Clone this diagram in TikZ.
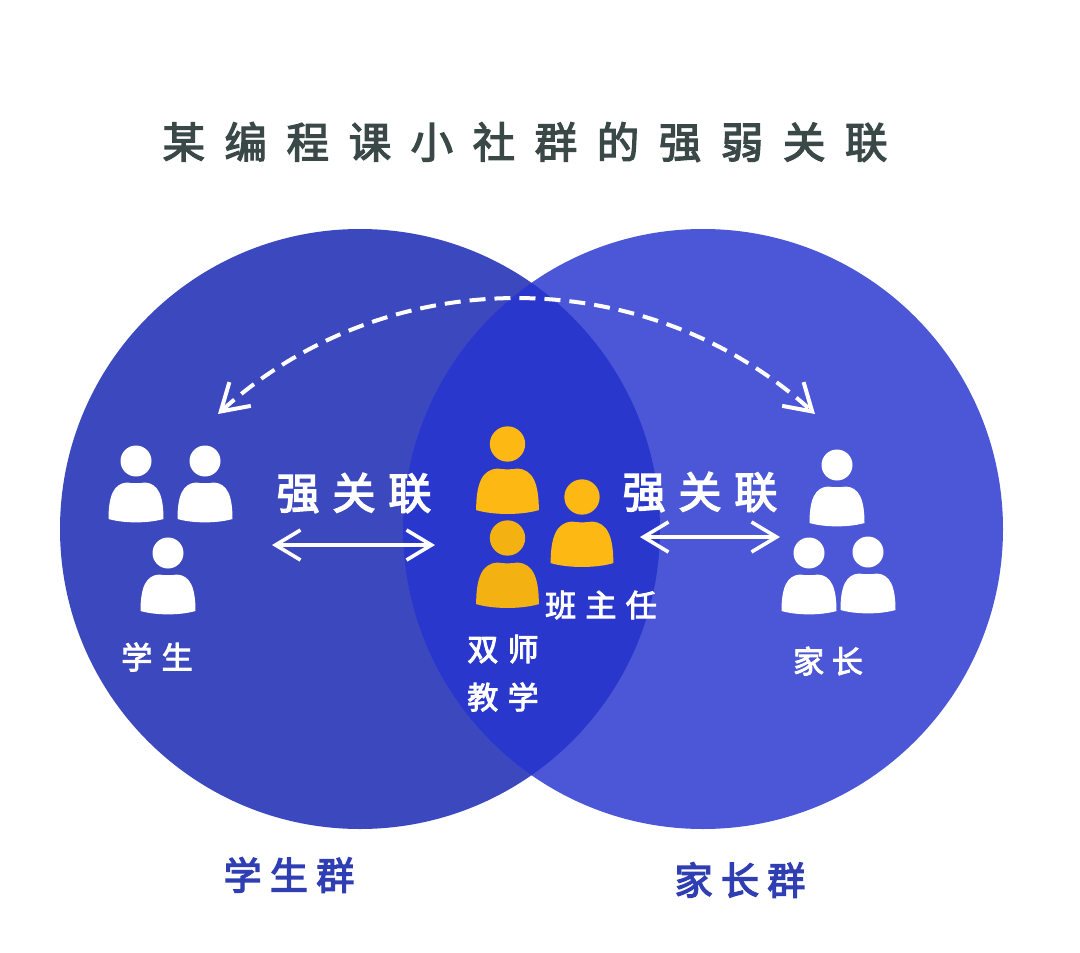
\documentclass[tikz,border=0pt]{standalone}
\usepackage{fontspec}
\usetikzlibrary{arrows.meta}
\newfontfamily\cjk{Noto Sans CJK SC}
\definecolor{leftblue}{RGB}{60,72,190}
\definecolor{rightblue}{RGB}{75,87,214}
\definecolor{lensblue}{RGB}{42,55,205}
\definecolor{titlegrey}{RGB}{58,72,72}
\definecolor{groupblue}{RGB}{47,62,178}
\definecolor{amber}{RGB}{253,184,19}
\tikzset{
  x=1pt,y=-1pt,
  venn/.style={circle,inner sep=0pt,minimum size=600pt},
  person/.pic={
    \fill[pic actions] (0,0) circle[radius=15.5];
    \fill[pic actions] (-27.5,58) .. controls (-27.5,34) and (-22,22.5) .. (-9,21.5)
      .. controls (-3,22.5) and (3,22.5) .. (9,21.5)
      .. controls (22,22.5) and (27.5,34) .. (27.5,58)
      .. controls (12,62.5) and (-12,62.5) .. (-27.5,58) -- cycle;
  },
  titletext/.style={text=titlegrey,font=\cjk\fontsize{42.5}{43}\selectfont},
  strongtext/.style={text=white,font=\cjk\fontsize{43}{43}\selectfont},
  smalltext/.style={text=white,font=\cjk\fontsize{31}{31}\selectfont},
  grouptext/.style={text=groupblue,font=\cjk\fontsize{38}{38}\selectfont},
  link/.style={draw=white,line width=3.6pt,{Straight Barb[length=25pt,width=30pt,line width=3.6pt]}-{Straight Barb[length=25pt,width=30pt,line width=3.6pt]}},
  farlink/.style={draw=white,line width=4pt,dash pattern=on 16pt off 9pt,{Straight Barb[length=26pt,width=32pt,line width=4pt]}-{Straight Barb[length=26pt,width=32pt,line width=4pt]}},
}
\newcommand{\spaced}[3]{\addfontfeature{LetterSpace=#1,FakeBold=#2}#3}
\begin{document}
\begin{tikzpicture}
\useasboundingbox (0,0) rectangle (1080,953);
\fill[white] (0,0) rectangle (1080,953);
\node[venn,fill=leftblue] (student) at (360,529) {};
\node[venn,fill=rightblue] (parent) at (703,529) {};
\begin{scope}
  \clip (360,529) circle[radius=300];
  \fill[lensblue] (703,529) circle[radius=300];
\end{scope}
\node[titletext] (title) at (525,142) {\spaced{46}{3}{某编程课小社群的强弱关联}};
\foreach \px/\py/\pn in {136/461/s1,205/461/s2,168/553/s3,837/465/p1,809/553/p2,868/552/p3}
  \pic[fill=white] (\pn) at (\px,\py) {person};
\pic[fill=amber,scale=1.14] (t1) at (507.5,444) {person};
\pic[fill=amber!96!black,scale=1.14] (t2) at (507.5,538) {person};
\pic[fill=amber,scale=1.14] (t3) at (582,497) {person};
\node[strongtext] (sl) at (354,493) {\spaced{30}{3.5}{强关联}};
\node[strongtext] (sr) at (700,492) {\spaced{30}{3.5}{强关联}};
\coordinate (a1) at (272,545);
\coordinate (a2) at (435,545);
\coordinate (b1) at (640,537);
\coordinate (b2) at (780,537);
\coordinate (c1) at (218,414);
\coordinate (c2) at (815,414);
\draw[link] (a1) -- (a2);
\draw[link] (b1) -- (b2);
\draw[farlink] (c1) .. controls (387.5,260.7) and (645.5,260.7) .. (c2);
\node[smalltext] (lstudent) at (157,657) {\spaced{30}{3}{学生}};
\node[smalltext] (lparent) at (828,661) {\spaced{25}{3}{家长}};
\node[smalltext] (lhead) at (601,605) {\spaced{30}{3}{班主任}};
\node[smalltext] (ldual1) at (503,649) {\spaced{30}{3}{双师}};
\node[smalltext] (ldual2) at (503,697) {\spaced{30}{3}{教学}};
\node[grouptext] (gs) at (289,875) {\spaced{22}{3.5}{学生群}};
\node[grouptext] (gp) at (740,880) {\spaced{22}{3.5}{家长群}};
\end{tikzpicture}
\end{document}
